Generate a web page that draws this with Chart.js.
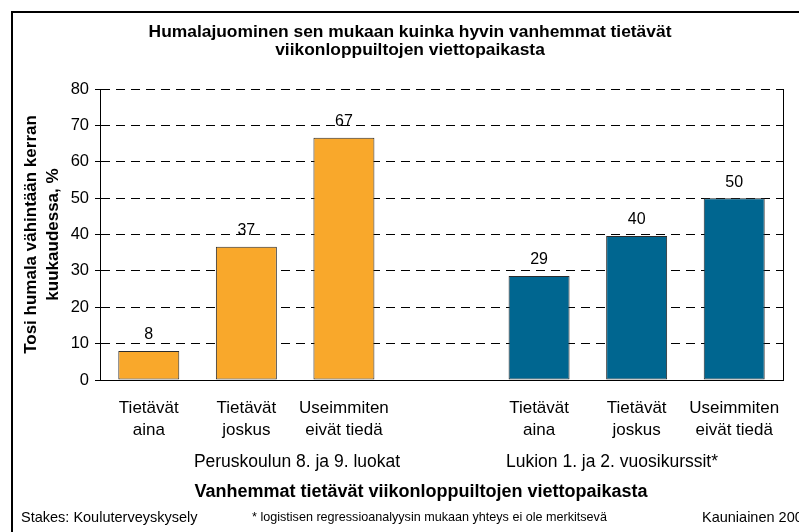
<!DOCTYPE html>
<html>
<head>
<meta charset="utf-8">
<script src="https://cdn.jsdelivr.net/npm/chart.js@4/dist/chart.umd.min.js"></script>
<style>
  html, body { margin: 0; padding: 0; background: #fff; overflow: hidden; }
  #wrap { position: relative; width: 799px; height: 532px; overflow: hidden; background: #fff; }
  #frame { position: absolute; left: 11px; top: 11px; width: 900px; height: 600px; border: 2px solid #000; box-sizing: border-box; pointer-events: none; }
  canvas { position: absolute; left: 0; top: 0; }
</style>
</head>
<body>
<div id="wrap">
  <canvas id="c" width="799" height="532"></canvas>
  <div id="frame"></div>
</div>
<script>
// ---- data ----
const categories = [
  ['Tietävät', 'aina'], ['Tietävät', 'joskus'], ['Useimmiten', 'eivät tiedä'],
  '',
  ['Tietävät', 'aina'], ['Tietävät', 'joskus'], ['Useimmiten', 'eivät tiedä']
];
const values = [8.0, 36.6, 66.6, null, 28.6, 39.6, 50.0];
const groupLabels = ['Peruskoulun 8. ja 9. luokat', 'Lukion 1. ja 2. vuosikurssit*'];
const yTicks = [0, 10, 20, 30, 40, 50, 60, 70, 80];
const titleLines = ['Humalajuominen sen mukaan kuinka hyvin vanhemmat tietävät', 'viikonloppuiltojen viettopaikasta'];
const yTitleLines = ['Tosi humala vähintään kerran', 'kuukaudessa, %'];
const xTitle = 'Vanhemmat tietävät viikonloppuiltojen viettopaikasta';
const footer = ['Stakes: Kouluterveyskysely', '* logistisen regressioanalyysin mukaan yhteys ei ole merkitsevä', 'Kauniainen 2006'];

const FONT = '"Liberation Sans", Arial, sans-serif';
const ORANGE = '#F9A82B';
const BLUE = '#006690';

const textPlugin = {
  id: 'texts',
  afterDatasetsDraw(chart) {
    const ctx = chart.ctx;
    const meta = chart.getDatasetMeta(0);
    ctx.save();
    ctx.fillStyle = '#000';
    ctx.font = '16px ' + FONT;
    ctx.textAlign = 'center';
    ctx.textBaseline = 'middle';
    meta.data.forEach((bar, i) => {
      const v = values[i];
      if (v === null || v === undefined) return;
      ctx.fillText(String(Math.round(v)), bar.x, bar.y - 16);
    });
    ctx.restore();
  },
  afterDraw(chart) {
    const ctx = chart.ctx;
    const area = chart.chartArea;
    ctx.save();
    ctx.fillStyle = '#000';
    ctx.textBaseline = 'middle';
    // title
    ctx.font = 'bold 17.4px ' + FONT;
    ctx.textAlign = 'center';
    ctx.fillText(titleLines[0], 410, 32);
    ctx.fillText(titleLines[1], 410, 50);
    // y title
    const cy = (area.top + area.bottom) / 2;
    ctx.save();
    ctx.translate(31, cy);
    ctx.rotate(-Math.PI / 2);
    ctx.font = 'bold 17px ' + FONT;
    ctx.fillText(yTitleLines[0], 0, 0);
    ctx.fillText(yTitleLines[1], 0, 22);
    ctx.restore();
    // group labels
    ctx.font = '17.5px ' + FONT;
    ctx.fillText(groupLabels[0], 297, 462);
    ctx.fillText(groupLabels[1], 612, 462);
    // x title
    ctx.font = 'bold 18px ' + FONT;
    ctx.fillText(xTitle, 421, 492);
    // footer
    ctx.textAlign = 'left';
    ctx.font = '14.5px ' + FONT;
    ctx.fillText(footer[0], 21, 518);
    ctx.fillText(footer[2], 702, 518);
    ctx.font = '12.6px ' + FONT;
    ctx.fillText(footer[1], 252, 518);
    ctx.restore();
  }
};

new Chart(document.getElementById('c'), {
  type: 'bar',
  data: {
    labels: categories,
    datasets: [{
      data: values,
      backgroundColor: (c) => c.dataIndex < 3 ? ORANGE : BLUE,
      borderColor: '#2b2b2b',
      borderWidth: 1,
      borderSkipped: false,
      categoryPercentage: 1.0,
      barPercentage: 0.625
    }]
  },
  options: {
    responsive: false,
    animation: false,
    devicePixelRatio: 1,
    layout: { padding: { left: 14, top: 89, right: 16, bottom: 72 } },
    plugins: { legend: { display: false }, tooltip: { enabled: false }, title: { display: false } },
    scales: {
      x: {
        offset: true,
        grid: { display: false, drawTicks: false },
        border: { display: true, color: '#000', width: 1 },
        ticks: {
          color: '#000', font: { family: FONT, size: 17, lineHeight: 1.25 },
          padding: 18, maxRotation: 0, minRotation: 0, autoSkip: false
        },
        afterFit(s) { s.height = 80; }
      },
      y: {
        min: 0, max: 80,
        afterBuildTicks(s) { s.ticks = yTicks.map(v => ({ value: v })); },
        grid: { display: true, color: '#000', lineWidth: 1, drawTicks: true, tickLength: 5, tickColor: '#000', tickWidth: 1 },
        border: { display: true, color: '#000', width: 1, dash: [9, 6] },
        ticks: { color: '#000', font: { family: FONT, size: 16.5 }, padding: 6 },
        afterFit(s) { s.width = 86; }
      },
      y2: {
        position: 'right',
        min: 0, max: 80,
        grid: { display: false },
        border: { display: true, color: '#000', width: 1 },
        ticks: { display: false },
        afterFit(s) { s.width = 0; }
      }
    }
  },
  plugins: [textPlugin]
});
</script>
</body>
</html>
